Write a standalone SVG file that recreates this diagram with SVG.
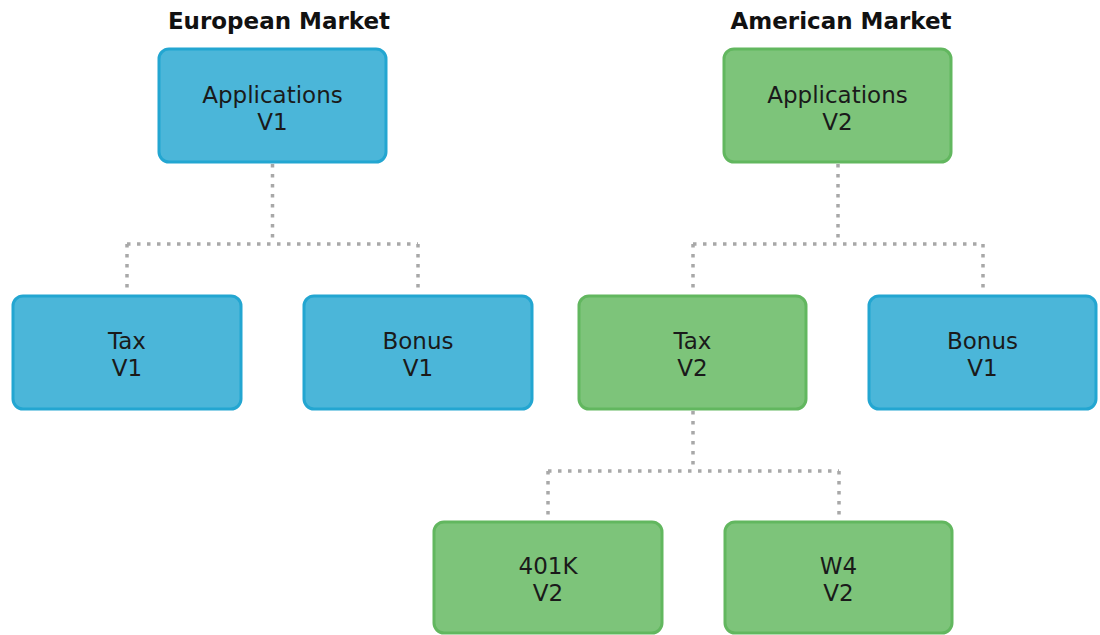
<svg xmlns="http://www.w3.org/2000/svg" width="1100" height="635" viewBox="0 0 1100 635">
  <style>
    .blue rect { fill: #4bb6d9; stroke: #23a6d1; stroke-width: 3; }
    .green rect { fill: #7dc47a; stroke: #62b75f; stroke-width: 3; }
    .node text { font-family: "DejaVu Sans", Verdana, sans-serif; font-size: 23px; fill: #1a1a1a; text-anchor: middle; }
    .title { font-family: "DejaVu Sans", Verdana, sans-serif; font-size: 23px; font-weight: bold; fill: #111; text-anchor: middle; }
    .link { fill: none; stroke: #a8a8a8; stroke-width: 3.5; stroke-dasharray: 3.5 6.5; }
  </style>
  <rect width="1100" height="635" fill="#ffffff"/>

  <text class="title" x="279" y="29">European Market</text>
  <text class="title" x="841" y="29">American Market</text>

  <!-- tree connectors -->
  <g id="connectors">
    <path class="link" d="M272.5,164 V244"/>
    <path class="link" d="M127,244 H418"/>
    <path class="link" d="M127,244 V294"/>
    <path class="link" d="M418,244 V294"/>
    <path class="link" d="M838,164 V244"/>
    <path class="link" d="M693,244 H983"/>
    <path class="link" d="M693,244 V294"/>
    <path class="link" d="M983,244 V294"/>
    <path class="link" d="M693,411 V471"/>
    <path class="link" d="M548,471 H839"/>
    <path class="link" d="M548,471 V520"/>
    <path class="link" d="M839,471 V520"/>
  </g>

  <g id="app-eu" class="node blue">
    <rect x="159" y="49" width="227" height="113" rx="10"/>
    <text x="272.5" y="103">Applications</text>
    <text x="272.5" y="130">V1</text>
  </g>
  <g id="tax-eu" class="node blue">
    <rect x="13" y="296" width="228" height="113" rx="10"/>
    <text x="127" y="349">Tax</text>
    <text x="127" y="376">V1</text>
  </g>
  <g id="bonus-eu" class="node blue">
    <rect x="304" y="296" width="228" height="113" rx="10"/>
    <text x="418" y="349">Bonus</text>
    <text x="418" y="376">V1</text>
  </g>

  <g id="app-us" class="node green">
    <rect x="724" y="49" width="227" height="113" rx="10"/>
    <text x="837.5" y="103">Applications</text>
    <text x="837.5" y="130">V2</text>
  </g>
  <g id="tax-us" class="node green">
    <rect x="579" y="296" width="227" height="113" rx="10"/>
    <text x="692.5" y="349">Tax</text>
    <text x="692.5" y="376">V2</text>
  </g>
  <g id="bonus-us" class="node blue">
    <rect x="869" y="296" width="227" height="113" rx="10"/>
    <text x="982.5" y="349">Bonus</text>
    <text x="982.5" y="376">V1</text>
  </g>
  <g id="k401" class="node green">
    <rect x="434" y="522" width="228" height="111" rx="10"/>
    <text x="548" y="574">401K</text>
    <text x="548" y="601">V2</text>
  </g>
  <g id="w4" class="node green">
    <rect x="725" y="522" width="227" height="111" rx="10"/>
    <text x="838.5" y="574">W4</text>
    <text x="838.5" y="601">V2</text>
  </g>
</svg>
